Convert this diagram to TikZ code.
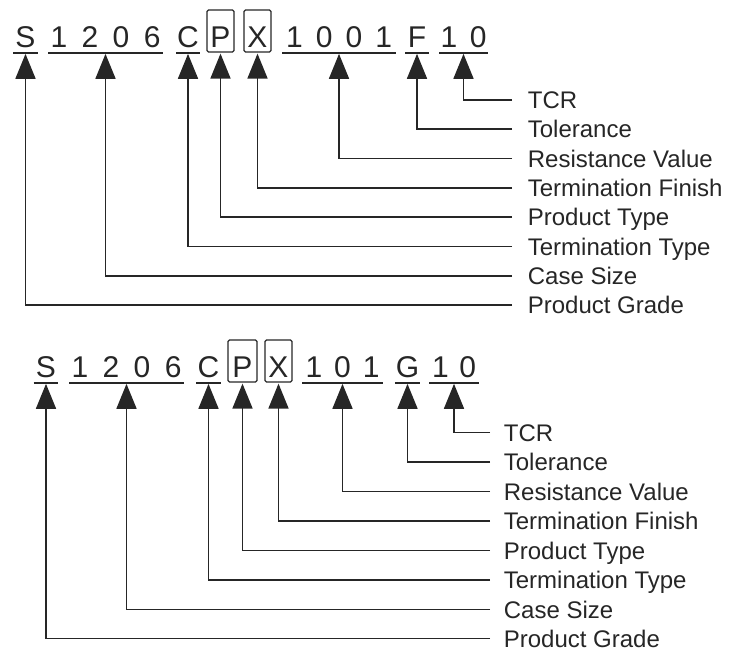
\documentclass[tikz,border=0pt]{standalone}
\usepackage{fontspec}
\setmainfont{Liberation Sans}
\usetikzlibrary{arrows.meta}

\begin{document}
\begin{tikzpicture}[x=1pt,y=-1pt,>={Triangle[width=20pt,length=25pt]},line width=1.7pt,
  every node/.style={text=black!85},
  code/.style={font=\fontsize{30}{30}\selectfont,text height=32pt,text depth=0pt,inner ysep=5pt,inner xsep=0pt,anchor=base},
  boxed/.style={code,draw=black!85,line width=1.2pt,rounded corners=1.5pt},
  field/.style={anchor=west,font=\fontsize{24}{24}\selectfont,text height=17pt,text depth=0pt,inner ysep=0pt},
  pointer/.style={draw=black!85,->,shorten >=1pt,to path={-| (\tikztotarget)}}]
  \useasboundingbox (0,0) rectangle (736,651);

  % first part number
  \node[code,minimum width=23pt]  (gradeA)  at (25.5,47)  {S};
  \node[code,minimum width=113pt] (sizeA)   at (105.5,47) {\makebox[110pt][s]{1\hfill2\hfill0\hfill6}};
  \node[code,minimum width=22pt]  (termA)   at (188,47)   {C};
  \node[boxed,minimum width=27pt] (typeA)   at (220.5,47) {P};
  \node[boxed,minimum width=27pt] (finishA) at (257.5,47) {X};
  \node[code,minimum width=112pt] (valueA)  at (339,47)   {\makebox[106pt][s]{1\hfill0\hfill0\hfill1}};
  \node[code,minimum width=22pt]  (tolA)    at (417,47)   {F};
  \node[code,minimum width=47pt]  (tcrA)    at (463.5,47) {\makebox[46pt][s]{1\hfill0}};

  \node[field,inner xsep=15pt] (tcrLblA)    at (512,100)   {TCR};
  \node[field,inner xsep=15pt] (tolLblA)    at (512,129.3) {Tolerance};
  \node[field,inner xsep=15pt] (valueLblA)  at (512,158.6) {Resistance Value};
  \node[field,inner xsep=15pt] (finishLblA) at (512,188)   {Termination Finish};
  \node[field,inner xsep=15pt] (typeLblA)   at (512,217.3) {Product Type};
  \node[field,inner xsep=15pt] (termLblA)   at (512,246.6) {Termination Type};
  \node[field,inner xsep=15pt] (sizeLblA)   at (512,276)   {Case Size};
  \node[field,inner xsep=15pt] (gradeLblA)  at (512,305.3) {Product Grade};

  % second part number
  \node[code,minimum width=23pt]  (gradeB)  at (46,377)    {S};
  \node[code,minimum width=113pt] (sizeB)   at (126.5,377) {\makebox[110pt][s]{1\hfill2\hfill0\hfill6}};
  \node[code,minimum width=23pt]  (termB)   at (208.5,377) {C};
  \node[boxed,minimum width=29pt] (typeB)   at (242.5,377) {P};
  \node[boxed,minimum width=27pt] (finishB) at (278.5,377) {X};
  \node[code,minimum width=79pt]  (valueB)  at (342.5,377) {\makebox[74pt][s]{1\hfill0\hfill1}};
  \node[code,minimum width=23pt]  (tolB)    at (407.5,377) {G};
  \node[code,minimum width=48pt]  (tcrB)    at (454,377)   {\makebox[44pt][s]{1\hfill0}};

  \node[field,inner xsep=13pt] (tcrLblB)    at (490,432.5) {TCR};
  \node[field,inner xsep=13pt] (tolLblB)    at (490,462)   {Tolerance};
  \node[field,inner xsep=13pt] (valueLblB)  at (490,491.5) {Resistance Value};
  \node[field,inner xsep=13pt] (finishLblB) at (490,521)   {Termination Finish};
  \node[field,inner xsep=13pt] (typeLblB)   at (490,550.5) {Product Type};
  \node[field,inner xsep=13pt] (termLblB)   at (490,580)   {Termination Type};
  \node[field,inner xsep=13pt] (sizeLblB)   at (490,609.5) {Case Size};
  \node[field,inner xsep=13pt] (gradeLblB)  at (490,638.5) {Product Grade};

  \foreach \g in {gradeA,sizeA,termA,valueA,tolA,tcrA,gradeB,sizeB,termB,valueB,tolB,tcrB}
    \draw[black!85] (\g.south west) -- (\g.south east);

  \foreach \f in {A,B}
    \path
      (tcrLbl\f.west)    edge[pointer] (tcr\f.south)
      (tolLbl\f.west)    edge[pointer] (tol\f.south)
      (valueLbl\f.west)  edge[pointer] (value\f.south)
      (finishLbl\f.west) edge[pointer] (finish\f.south)
      (typeLbl\f.west)   edge[pointer] (type\f.south)
      (termLbl\f.west)   edge[pointer] (term\f.south)
      (sizeLbl\f.west)   edge[pointer] (size\f.south)
      (gradeLbl\f.west)  edge[pointer] (grade\f.south);
\end{tikzpicture}
\end{document}
